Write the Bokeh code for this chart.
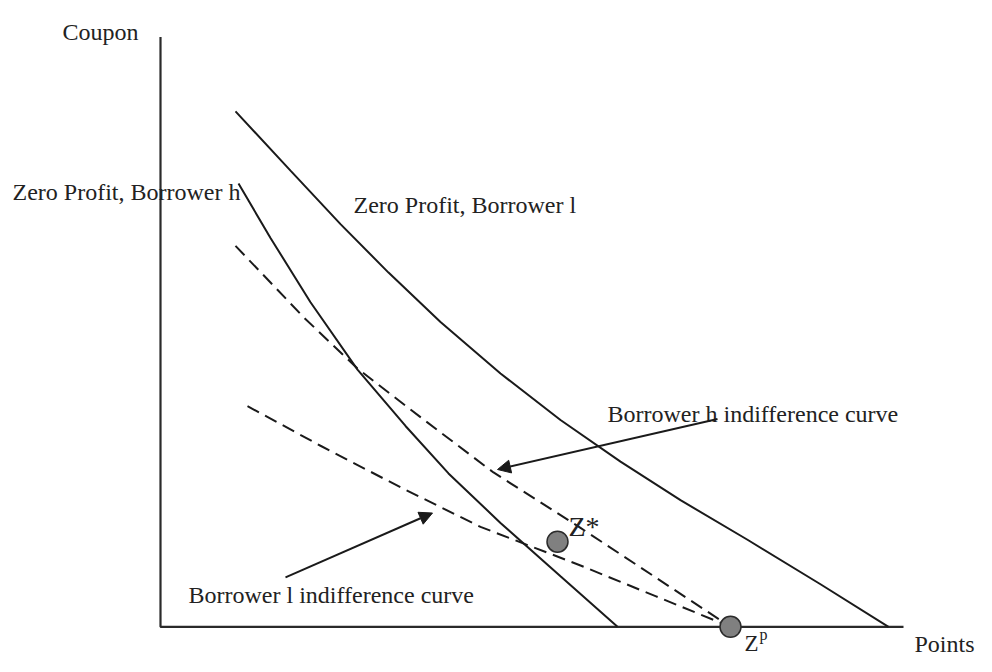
from bokeh.plotting import figure
from bokeh.models import Range1d, Arrow, NormalHead
from bokeh.core.properties import value
from bokeh.embed import file_html
from bokeh.resources import INLINE

# Schematic units (origin at the axes' corner)
axis_x = [0, 0, 743]
axis_y = [596, 0, 0]

zp_l_x = [75, 130, 180, 228, 280, 340, 400, 460, 520, 587, 660, 728]
zp_l_y = [521, 461, 407, 358, 308, 256, 209, 167, 128, 88, 43, 0]

zp_h_x = [78, 110, 150, 197, 245, 288, 340, 400, 457]
zp_h_y = [448, 393, 328, 260, 203, 155, 105, 51, 0]

ic_h_x = [75, 110, 143, 197, 265, 333, 420, 495, 570]
ic_h_y = [385, 348, 313, 261, 208, 156, 100, 50, 0]

ic_l_x = [87, 160, 240, 320, 420, 495, 570]
ic_l_y = [223, 183, 141, 101, 62, 31, 0]

pts_x = [397, 570]
pts_y = [86, 0]

arrow_start_x = [557, 125]
arrow_start_y = [210, 50]
arrow_end_x = [337, 272]
arrow_end_y = [159, 115]

labels = ["Coupon", "Zero Profit, Borrower h", "Zero Profit, Borrower l",
          "Borrower h indifference curve", "Borrower l indifference curve",
          "Points"]
label_x = [-98, -148, 193, 447, 28, 754]
label_y = [601, 439, 426, 215, 32, -17]

point_labels = ["Z*"]
point_label_x = [408]
point_label_y = [101]

zp_labels = ["Z"]
zp_label_x = [584]
zp_label_y = [-17]

sup_labels = ["p"]
sup_x = [599]
sup_y = [-8]

INK = "#1a1a1a"
FONT = value("Liberation Serif")

p = figure(width=976, height=656, output_backend="svg", toolbar_location=None,
           tools="", x_range=Range1d(-160, 816), y_range=Range1d(-30, 633),
           min_border=0)
p.axis.visible = False
p.grid.visible = False
p.outline_line_color = None
p.background_fill_color = "white"
p.border_fill_color = "white"

p.line(axis_x, axis_y, line_color="#2a2a2a", line_width=2.2)
p.line(zp_l_x, zp_l_y, line_color=INK, line_width=2)
p.line(zp_h_x, zp_h_y, line_color=INK, line_width=2)
p.line(ic_h_x, ic_h_y, line_color=INK, line_width=2, line_dash="13 7")
p.line(ic_l_x, ic_l_y, line_color=INK, line_width=2, line_dash="13 7")

for xs, ys, xe, ye in zip(arrow_start_x, arrow_start_y, arrow_end_x, arrow_end_y):
    p.add_layout(Arrow(end=NormalHead(size=13, fill_color=INK, line_color=INK, line_width=1),
                       x_start=xs, y_start=ys, x_end=xe, y_end=ye,
                       line_color=INK, line_width=2))

p.scatter(pts_x, pts_y, marker="circle", size=21, fill_color="#808080",
          line_color="#2b2b2b", line_width=1.5)

p.text(label_x, label_y, text=labels, text_font=FONT, text_font_size="24px",
       text_color="#222222", text_baseline="alphabetic", text_align="left")
p.text(point_label_x, point_label_y, text=point_labels, text_font=FONT,
       text_font_size="28px", text_color="#222222", text_baseline="alphabetic",
       text_align="left")
p.text(zp_label_x, zp_label_y, text=zp_labels, text_font=FONT,
       text_font_size="23px", text_color="#222222", text_baseline="alphabetic",
       text_align="left")
p.text(sup_x, sup_y, text=sup_labels, text_font=FONT, text_font_size="16px",
       text_color="#222222", text_baseline="alphabetic", text_align="left")

open("out.html", "w").write(file_html(p, INLINE))
